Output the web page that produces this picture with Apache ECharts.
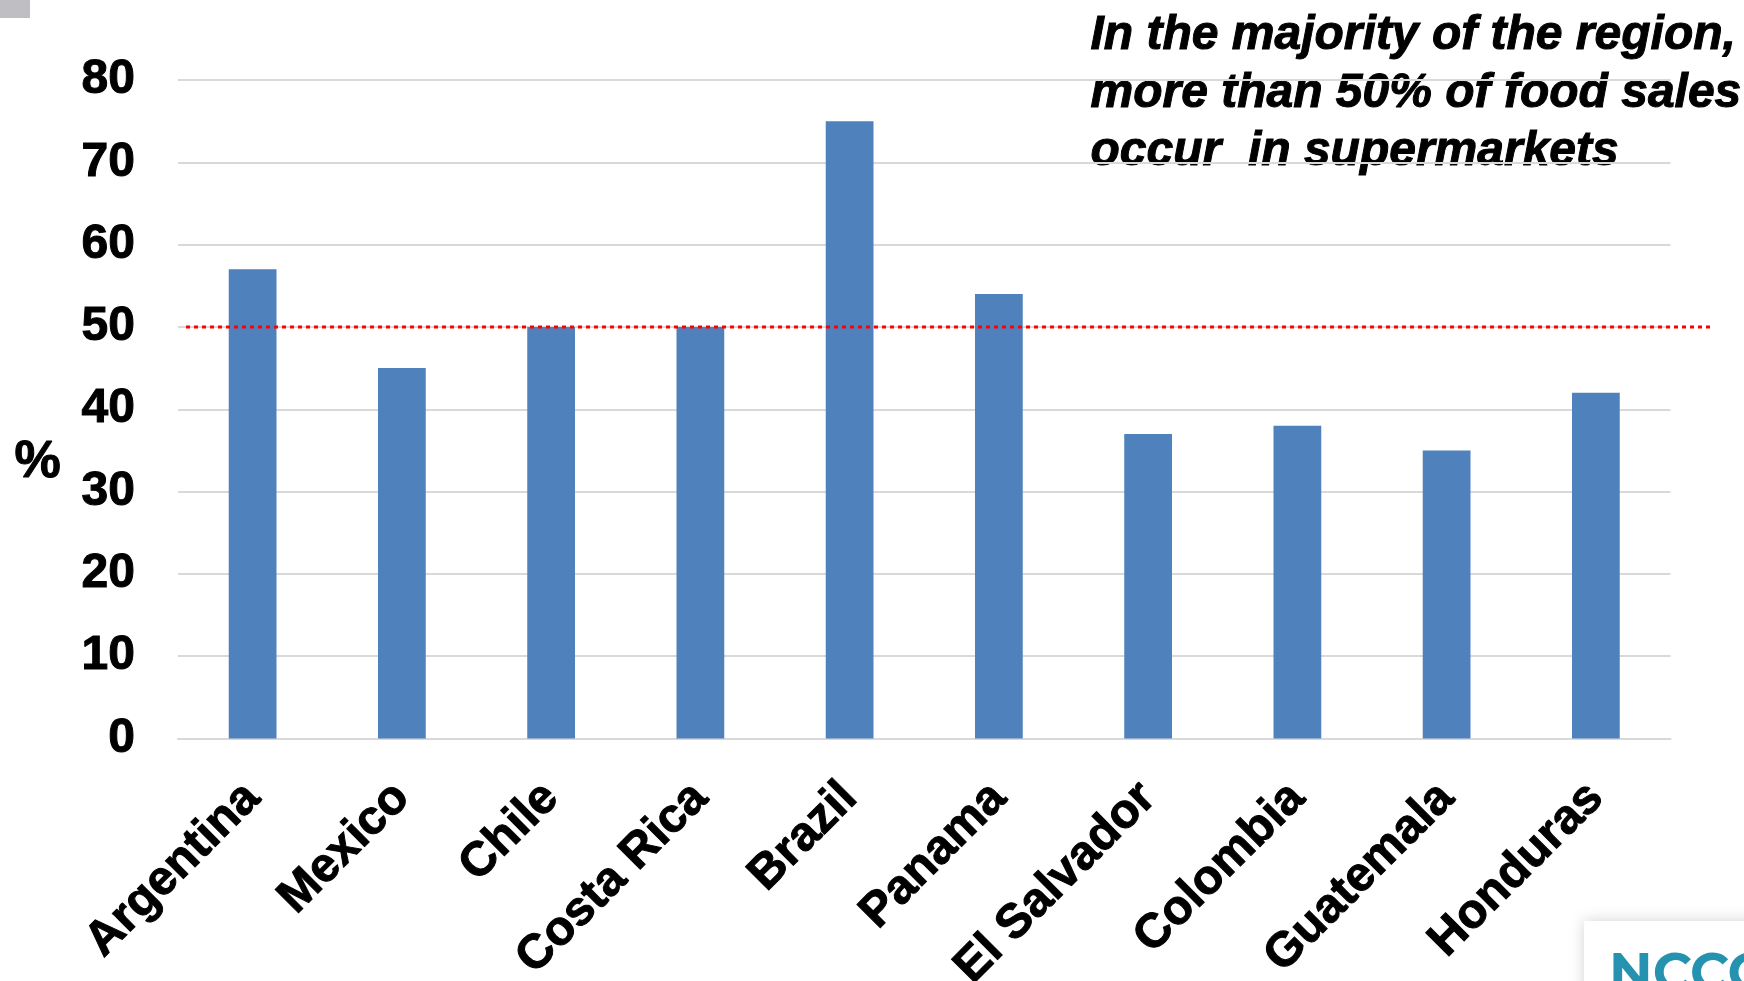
<!DOCTYPE html>
<html>
<head>
<meta charset="utf-8">
<script src="https://cdn.jsdelivr.net/npm/echarts@6/dist/echarts.min.js"></script>
<style>
html,body{margin:0;padding:0;background:#fff;}
#chart{width:1744px;height:981px;}
</style>
</head>
<body>
<div id="chart"></div>
<script>
const categories = ['Argentina','Mexico','Chile','Costa Rica','Brazil','Panama','El Salvador','Colombia','Guatemala','Honduras'];
const shareValues = [57, 45, 50, 50, 75, 54, 37, 38, 35, 42];
const thresholdValue = 50;
const yTicks = [0, 80, 10];
const annotationText = 'In the majority of the region,\nmore than 50% of food sales\noccur  in supermarkets';
const axisUnit = '%';
const logoText = 'NCCC';

const chart = echarts.init(document.getElementById('chart'), null, {renderer: 'canvas'});
const FONT = '"Liberation Sans", Arial, sans-serif';

chart.setOption({
  backgroundColor: '#ffffff',
  animation: false,
  grid: [
    {left: 178, right: 73.5, top: 80, bottom: 242.5, containLabel: false, outerBoundsMode: 'none'},
    {left: 186, right: 33, top: 80, bottom: 242.5, containLabel: false, outerBoundsMode: 'none'}
  ],
  xAxis: [
    {
      type: 'category', gridIndex: 0, data: categories,
      axisLine: {show: true, lineStyle: {color: '#D9D9D9', width: 2}},
      axisTick: {show: false},
      axisLabel: {
        rotate: 45, interval: 0, margin: 52,
        color: '#000', fontFamily: FONT, fontWeight: 'bold', fontSize: 48,
        textBorderColor: '#000', textBorderWidth: 1
      }
    },
    {type: 'value', gridIndex: 1, min: 0, max: 1, show: false}
  ],
  yAxis: [
    {
      type: 'value', gridIndex: 0, min: yTicks[0], max: yTicks[1], interval: yTicks[2],
      axisLine: {show: false}, axisTick: {show: false},
      splitLine: {lineStyle: {color: '#D9D9D9', width: 2}},
      axisLabel: {margin: 43, color: '#000', fontFamily: FONT, fontWeight: 'bold', fontSize: 48,
        textBorderColor: '#000', textBorderWidth: 1}
    },
    {type: 'value', gridIndex: 1, min: yTicks[0], max: yTicks[1], show: false}
  ],
  series: [
    {
      type: 'bar', xAxisIndex: 0, yAxisIndex: 0, data: shareValues,
      barWidth: '32%', itemStyle: {color: '#4F81BD'}, silent: true
    },
    {
      type: 'line', xAxisIndex: 1, yAxisIndex: 1,
      data: [[0, thresholdValue], [1, thresholdValue]],
      symbol: 'none', silent: true,
      lineStyle: {color: '#FF0000', width: 3, type: [4, 4]}
    }
  ],
  graphic: [
    {type: 'rect', left: 0, top: 0, shape: {width: 30, height: 18}, style: {fill: '#BEBEC3'}},
    {
      type: 'text', left: 14, top: 436,
      style: {text: axisUnit, fill: '#000', font: 'bold 52px ' + FONT, stroke: '#000', lineWidth: 1}
    },
    {
      type: 'text', left: 1090, top: 7,
      style: {text: annotationText, fill: '#000', font: 'italic bold 48px ' + FONT, lineHeight: 58,
        stroke: '#000', lineWidth: 1}
    },
    {
      type: 'rect', left: 1584, top: 921,
      shape: {width: 200, height: 100},
      style: {fill: '#fff', shadowBlur: 14, shadowColor: 'rgba(0,0,0,0.18)', shadowOffsetY: 0}
    },
    {
      type: 'text', left: 1609, top: 948,
      style: {text: logoText, fill: '#2593B0', font: 'bold 54px "Montserrat", "Open Sans", sans-serif'}
    }
  ]
});
</script>
</body>
</html>
